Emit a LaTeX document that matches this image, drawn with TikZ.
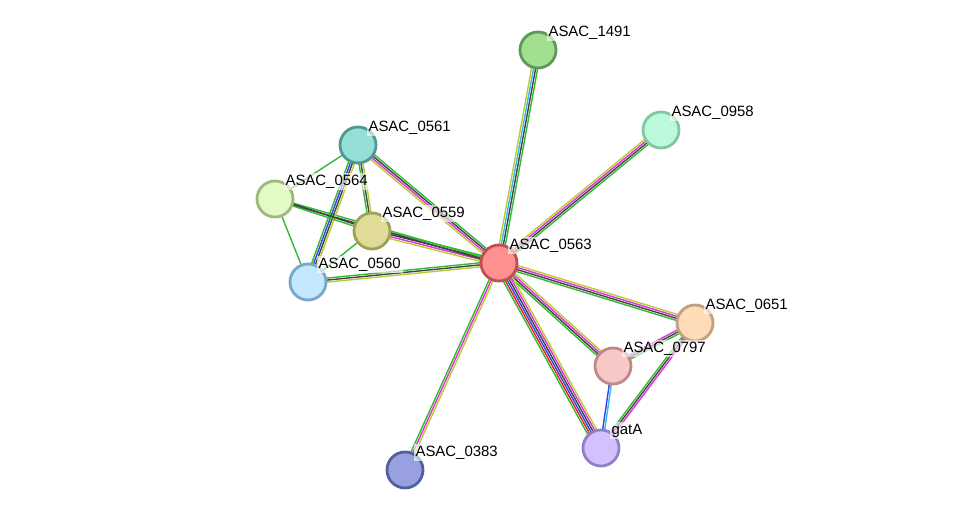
\documentclass[tikz,border=0pt]{standalone}
\usepackage{fontspec}
\setmainfont{Liberation Sans}
\usetikzlibrary{calc,backgrounds}
\definecolor{eGreen}{HTML}{33BB33}
\definecolor{eBlack}{HTML}{444444}
\definecolor{eMag}{HTML}{DD33DD}
\definecolor{eYel}{HTML}{BBCC33}
\definecolor{eBlue}{HTML}{3344EE}
\definecolor{eCyan}{HTML}{33BBEE}
\definecolor{eRed}{HTML}{EE2222}
\tikzset{
  prot/.style={circle, minimum size=36\pgfunit, line width=1.6pt, inner sep=0pt},
  lbl/.style={font=\fontsize{8.5}{10}\selectfont, anchor=south west, inner sep=1pt,
    fill=white, fill opacity=0.6, text opacity=1},
}
\newlength\pgfunit \setlength\pgfunit{0.02cm}
% parallel coloured lines between two nodes
\newcommand\lnk[3]{%
  \foreach \c [count=\i] in {#3} {\xdef\nlines{\i}}
  \foreach \c [count=\i] in {#3} {
    \pgfmathsetmacro\off{(\i-(\nlines+1)/2)*1.15}
    \draw[\c, line width=0.8pt]
      ($(#1.center)!\off pt!90:(#2.center)$) -- ($(#2.center)!\off pt!-90:(#1.center)$);
  }
}
\begin{document}
\begin{tikzpicture}[x=0.02cm, y=-0.02cm]
  \useasboundingbox (0,0) rectangle (975,516);
  % Nodes
  \node[prot, fill={rgb,255:red,160;green,224;blue,144}, draw={rgb,255:red,96;green,152;blue,88}] (p1491) at (538,50) {};
  \node[prot, fill={rgb,255:red,188;green,248;blue,220}, draw={rgb,255:red,128;green,200;blue,160}] (p0958) at (661,130) {};
  \node[prot, fill={rgb,255:red,148;green,224;blue,214}, draw={rgb,255:red,80;green,152;blue,148}] (p0561) at (358,145) {};
  \node[prot, fill={rgb,255:red,226;green,250;blue,196}, draw={rgb,255:red,160;green,184;blue,128}] (p0564) at (275,199) {};
  \node[prot, fill={rgb,255:red,224;green,220;blue,152}, draw={rgb,255:red,160;green,160;blue,88}] (p0559) at (372,231) {};
  \node[prot, fill={rgb,255:red,255;green,144;blue,144}, draw={rgb,255:red,192;green,80;blue,80}] (p0563) at (499,263) {};
  \node[prot, fill={rgb,255:red,196;green,232;blue,255}, draw={rgb,255:red,120;green,168;blue,200}] (p0560) at (308,282) {};
  \node[prot, fill={rgb,255:red,255;green,220;blue,184}, draw={rgb,255:red,192;green,160;blue,128}] (p0651) at (695,323) {};
  \node[prot, fill={rgb,255:red,248;green,200;blue,200}, draw={rgb,255:red,192;green,136;blue,136}] (p0797) at (613,366) {};
  \node[prot, fill={rgb,255:red,210;green,192;blue,255}, draw={rgb,255:red,144;green,128;blue,200}] (pgatA) at (601,448) {};
  \node[prot, fill={rgb,255:red,152;green,160;blue,224}, draw={rgb,255:red,80;green,96;blue,160}] (p0383) at (405,470) {};

  % Labels
  \foreach \p/\t in {1491/ASAC\_1491, 0958/ASAC\_0958, 0561/ASAC\_0561, 0564/ASAC\_0564,
      0559/ASAC\_0559, 0563/ASAC\_0563, 0560/ASAC\_0560, 0651/ASAC\_0651,
      0797/ASAC\_0797, gatA/gatA, 0383/ASAC\_0383}
    \node[lbl] (l\p) at ([xshift=-3pt,yshift=-3pt]p\p.north east) {\t};

  % Edges
  \begin{pgfonlayer}{background}
    \lnk{p0563}{p1491}{eGreen,eBlack,eCyan,eYel}
    \lnk{p0563}{p0958}{eGreen,eBlack,eMag,eYel}
    \lnk{p0563}{p0561}{eGreen,eBlack,eMag,eYel}
    \lnk{p0563}{p0559}{eGreen,eBlack,eMag,eYel}
    \lnk{p0563}{p0564}{eGreen,eBlack}
    \lnk{p0563}{p0560}{eGreen,eBlack,eYel}
    \lnk{p0561}{p0559}{eGreen,eBlack,eYel}
    \lnk{p0561}{p0560}{eGreen,eBlue,eBlack,eYel}
    \lnk{p0561}{p0564}{eGreen}
    \lnk{p0564}{p0560}{eGreen}
    \lnk{p0564}{p0559}{eGreen,eBlack}
    \lnk{p0559}{p0560}{eGreen}
    \lnk{p0563}{p0383}{eGreen,eMag,eYel}
    \lnk{p0563}{p0651}{eGreen,eBlack,eMag,eYel}
    \lnk{p0563}{p0797}{eGreen,eBlack,eMag,eYel}
    \lnk{p0563}{pgatA}{eGreen,eRed,eBlue,eBlack,eMag,eYel}
    \lnk{p0797}{p0651}{eGreen,eBlack,eMag}
    \lnk{p0797}{pgatA}{eBlue,eCyan}
    \lnk{p0651}{pgatA}{eGreen,eBlack,eMag}
  \end{pgfonlayer}
\end{tikzpicture}
\end{document}
